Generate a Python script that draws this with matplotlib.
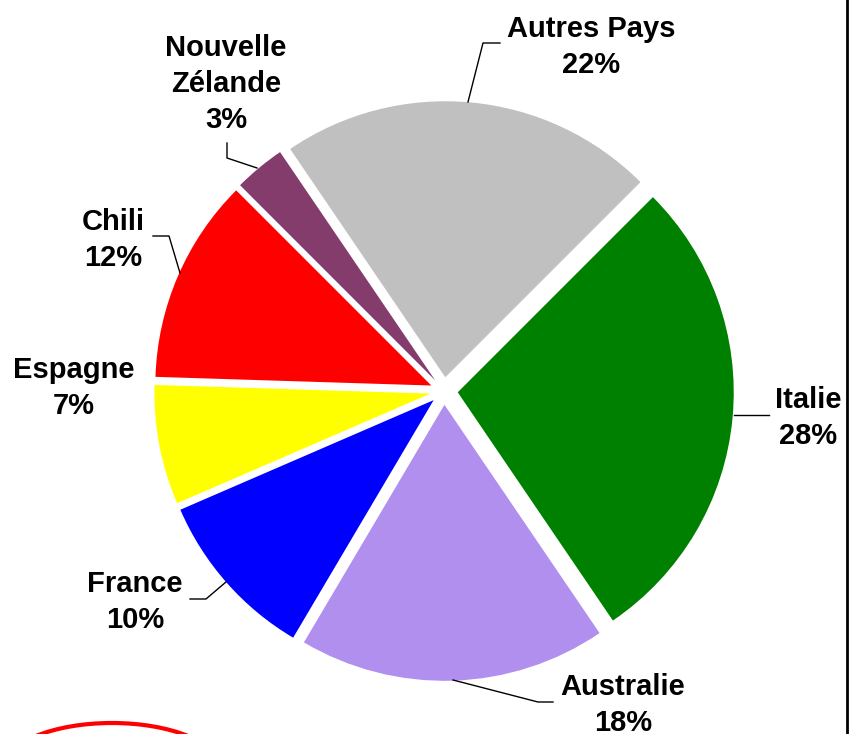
import matplotlib.pyplot as plt
from matplotlib.lines import Line2D
from matplotlib.patches import Ellipse

# data, clockwise from the top-right
pays = ['Italie', 'Australie', 'France', 'Espagne', 'Chili', 'Nouvelle\nZélande', 'Autres Pays']
parts = [28, 18, 10, 7, 12, 3, 22]
couleurs = ['#008000', '#B18FEE', '#0000FF', '#FFFF00', '#FF0000', '#843C6C', '#C0C0C0']

# label centres and leader lines, in pixels from top-left
label_pos = [(808, 418), (623, 705), (135, 602), (74, 388), (113, 240), (226, 84), (591, 47)]
leaders = [
    [(734, 415), (769, 415)],
    [(453, 680), (538, 702), (553, 702)],
    [(190, 599), (206, 599), (226, 582)],
    None,
    [(153, 236), (169, 236), (180, 273)],
    [(227, 143), (227, 158), (257, 168)],
    [(468, 102), (483, 43), (500, 43)],
]

W, H = 850, 734
plt.rcParams['font.family'] = ['Liberation Sans', 'DejaVu Sans']

def px(x, y):
    return x / W, 1 - y / H

fig = plt.figure(figsize=(W / 100, H / 100), dpi=100)
fig.patch.set_facecolor('white')

# pie centre at (444, 391) px, radius 276 px
cx, cy, r = 444, 391, 276
half = 300
ax = fig.add_axes([(cx - half) / W, (H - cy - half) / H, 2 * half / W, 2 * half / H])
ax.pie(parts, colors=couleurs, startangle=45, counterclock=False,
       explode=[0.05] * len(parts), radius=1.0,
       wedgeprops=dict(linewidth=0))
L = half / r
ax.set_xlim(-L, L)
ax.set_ylim(-L, L)
ax.set_aspect('equal')
ax.axis('off')

for name, p, (x, y), lead in zip(pays, parts, label_pos, leaders):
    fx, fy = px(x, y)
    fig.text(fx, fy, '%s\n%d%%' % (name, p), ha='center', va='center',
             fontsize=21, fontweight='bold', linespacing=1.38)
    if lead:
        xs = [px(a, b)[0] for a, b in lead]
        ys = [px(a, b)[1] for a, b in lead]
        fig.add_artist(Line2D(xs, ys, color='black', lw=1.0, transform=fig.transFigure))

# right border
fig.add_artist(Line2D([px(847, 0)[0]] * 2, [0, 1], color='black', lw=2, transform=fig.transFigure))

# red ellipse peeking in at the bottom-left
ell = Ellipse(px(112, 768), 216 / W, 90 / H, transform=fig.transFigure,
              fill=False, edgecolor='#FF0000', lw=3)
fig.add_artist(ell)

fig.savefig('out.png', dpi=100, facecolor='white')
